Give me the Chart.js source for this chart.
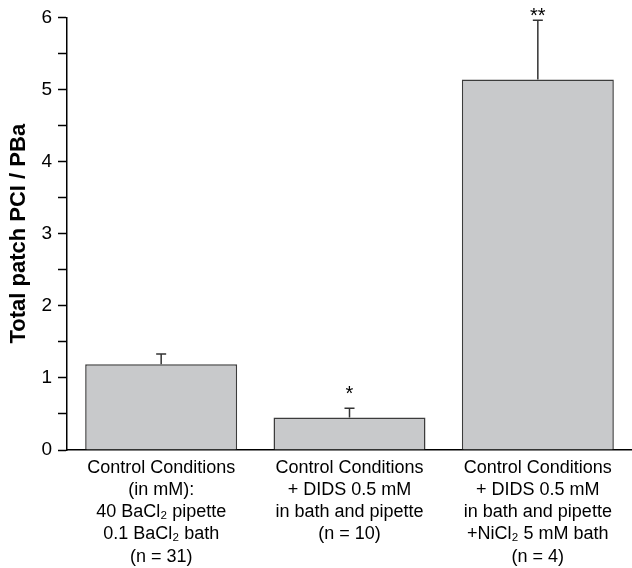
<!DOCTYPE html>
<html>
<head>
<meta charset="utf-8">
<script src="https://cdn.jsdelivr.net/npm/chart.js@4"></script>
<style>
  body { margin: 0; background: #fff; }
  #wrap { width: 632px; height: 568px; }
</style>
</head>
<body>
<div id="wrap"><canvas id="barChart"></canvas></div>
<script>
// data
var categories = [
  ["Control Conditions", "(in mM):", "40 BaCl\u2082 pipette", "0.1 BaCl\u2082 bath", "(n = 31)"],
  ["Control Conditions", "+ DIDS 0.5 mM", "in bath and pipette", "(n = 10)"],
  ["Control Conditions", "+ DIDS 0.5 mM", "in bath and pipette", "+NiCl\u2082 5 mM bath", "(n = 4)"]
];
var means = [1.19, 0.45, 5.14];
var errors = [0.14, 0.13, 0.82];
var stars = ["", "*", "**"];
var starLevels = [null, 0.83, 6.07];
var yTicks = [0, 1, 2, 3, 4, 5, 6];

var fontFamily = "'Liberation Sans', Arial, sans-serif";

// upper error bars + significance stars
var errorBarPlugin = {
  id: "errorBars",
  afterDatasetsDraw: function (chart) {
    var ctx = chart.ctx;
    var y = chart.scales.y;
    var meta = chart.getDatasetMeta(0);
    ctx.save();
    ctx.strokeStyle = "#333";
    ctx.lineWidth = 1.5;
    meta.data.forEach(function (bar, i) {
      var top = y.getPixelForValue(means[i]);
      var cap = y.getPixelForValue(means[i] + errors[i]);
      ctx.beginPath();
      ctx.moveTo(bar.x, top);
      ctx.lineTo(bar.x, cap);
      ctx.moveTo(bar.x - 5, cap);
      ctx.lineTo(bar.x + 5, cap);
      ctx.stroke();
      if (stars[i]) {
        ctx.fillStyle = "#000";
        ctx.font = "20px " + fontFamily;
        ctx.textAlign = "center";
        ctx.textBaseline = "middle";
        ctx.fillText(stars[i], bar.x, y.getPixelForValue(starLevels[i]) + 4);
      }
    });
    ctx.restore();
  }
};

var ctx = document.getElementById("barChart").getContext("2d");
var barChart = new Chart(ctx, {
  type: "bar",
  data: {
    labels: categories,
    datasets: [
      {
        data: means,
        backgroundColor: "#c8c9cb",
        borderColor: "#3c3c3c",
        borderWidth: 1.5,
        barPercentage: 0.807,
        categoryPercentage: 1.0,
      },
    ],
  },
  options: {
    responsive: true,
    maintainAspectRatio: false,
    animation: false,
    layout: { padding: { top: 17, right: 0, left: 0, bottom: 0 } },
    plugins: { legend: { display: false }, tooltip: { enabled: false } },
    scales: {
      x: {
        grid: { display: true, drawOnChartArea: false, drawTicks: false },
        border: { display: true, color: "#000", width: 1.5 },
        ticks: {
          color: "#000",
          padding: 7,
          maxRotation: 0,
          autoSkip: false,
          font: { family: fontFamily, size: 18, lineHeight: 1.23 },
        },
        afterFit: function (s) { s.height = 118; },
      },
      y: {
        min: 0,
        max: 6,
        grid: { drawOnChartArea: false, color: "#000", tickLength: 9, tickWidth: 1.5 },
        border: { display: true, color: "#000", width: 1.5 },
        ticks: {
          stepSize: 0.5,
          color: "#000",
          padding: 6,
          font: { family: fontFamily, size: 19 },
          callback: function (v) { return yTicks.indexOf(v) >= 0 ? String(v) : ""; },
        },
        title: {
          display: true,
          text: "Total patch PCI / PBa",
          color: "#000",
          padding: { top: 6, bottom: 0 },
          font: { family: fontFamily, size: 22, weight: "bold" },
        },
        afterFit: function (s) { s.width = 67; },
      },
    },
  },
  plugins: [errorBarPlugin],
});
</script>
</body>
</html>
